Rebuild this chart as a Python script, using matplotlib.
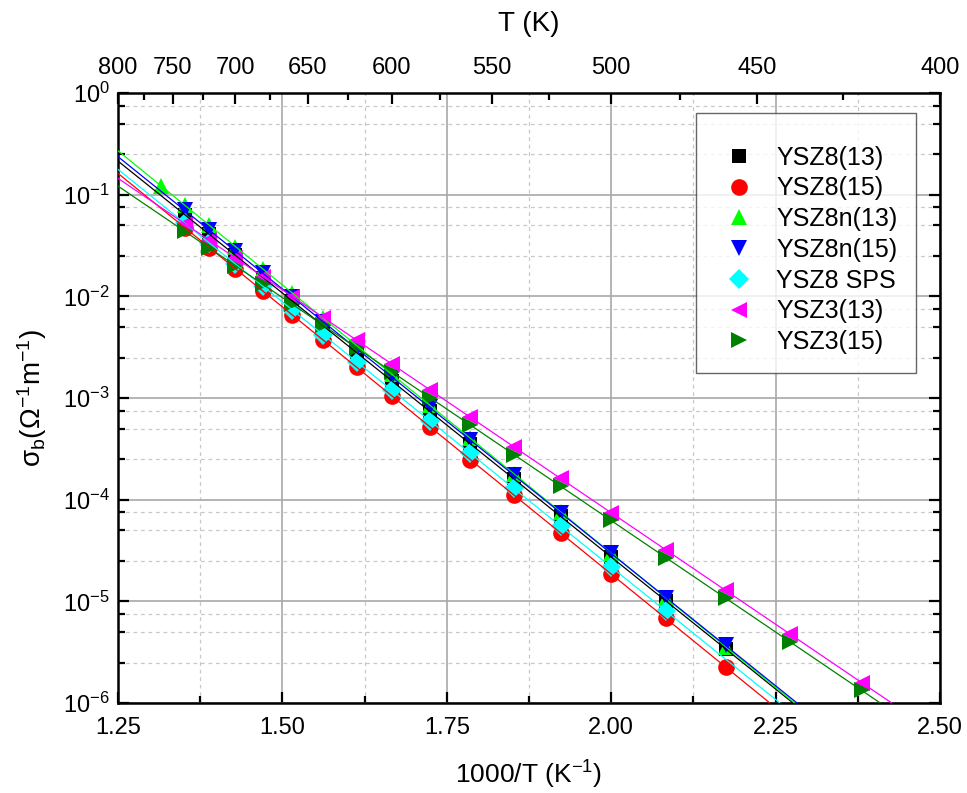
import matplotlib
matplotlib.use("Agg")
import matplotlib.pyplot as plt
import numpy as np

plt.rcParams['font.family'] = ['Liberation Sans', 'DejaVu Sans']
plt.rcParams['mathtext.fontset'] = 'custom'
plt.rcParams['mathtext.rm'] = 'Liberation Sans'
plt.rcParams['mathtext.it'] = 'Liberation Sans'

# measuring temperatures (K)
temps = np.array([740, 720, 700, 680, 660, 640, 620, 600, 580, 560, 540, 520,
                  500, 480, 460, 440, 420])

# conductivity values (ohm^-1 m^-1)
ysz8_13 = [0.0637, 0.0407, 0.0254, 0.01531, 0.00899, 0.00511, 0.00279, 0.00147,
           7.40e-4, 3.54e-4, 1.60e-4, 6.85e-5, 2.73e-5, 1.01e-5, 3.41e-6]
ysz8_15 = [0.0475, 0.0302, 0.01866, 0.01125, 0.00655, 0.00370, 0.00201, 0.00105,
           5.24e-4, 2.48e-4, 1.11e-4, 4.71e-5, 1.86e-5, 6.78e-6, 2.26e-6]
ysz8n_13 = [0.1216, 0.0789, 0.0500, 0.0309, 0.01854, 0.01079, 0.00607, 0.00329,
            0.00171, 8.51e-4, 4.03e-4, 1.80e-4, 7.57e-5, 2.97e-5, 1.08e-5, 3.59e-6]
ysz8n_15 = [0.0702, 0.0448, 0.0279, 0.01683, 0.00986, 0.00560, 0.00305, 0.00161,
            8.07e-4, 3.85e-4, 1.75e-4, 7.43e-5, 2.96e-5, 1.09e-5, 3.68e-6]
ysz8_sps = [0.0525, 0.0335, 0.0208, 0.01256, 0.00735, 0.00417, 0.00228, 0.00119,
            5.98e-4, 2.86e-4, 1.29e-4, 5.48e-5, 2.18e-5, 8.02e-6]
ysz3_13 = [0.0520, 0.0356, 0.0239, 0.01560, 0.00995, 0.00617, 0.00371, 0.00215,
           0.00121, 6.47e-4, 3.32e-4, 1.62e-4, 7.43e-5, 3.21e-5, 1.29e-5, 4.73e-6,
           1.58e-6]
ysz3_15 = [0.0437, 0.0299, 0.0200, 0.01309, 0.00836, 0.00518, 0.00311, 0.00181,
           0.00101, 5.43e-4, 2.78e-4, 1.36e-4, 6.24e-5, 2.69e-5, 1.08e-5, 3.96e-6,
           1.33e-6]

# (label, temperatures, values, marker, colour)
series = [
    ("YSZ8(13)", temps[:15], ysz8_13, "s", "#000000"),
    ("YSZ8(15)", temps[:15], ysz8_15, "o", "#FF0000"),
    ("YSZ8n(13)", np.r_[760, temps[:15]], ysz8n_13, "^", "#00FF00"),
    ("YSZ8n(15)", temps[:15], ysz8n_15, "v", "#0000FF"),
    ("YSZ8 SPS", temps[:14], ysz8_sps, "D", "#00FFFF"),
    ("YSZ3(13)", temps, ysz3_13, "<", "#FF00FF"),
    ("YSZ3(15)", temps, ysz3_15, ">", "#008000"),
]

top_T = [800, 750, 700, 650, 600, 550, 500, 450, 400]
top_T_minor = [775, 725, 675, 625, 575, 525, 475, 425]

fig = plt.figure(figsize=(9.67, 7.93), dpi=100)
ax = fig.add_axes([0.122, 0.1135, 0.850, 0.7692])

xfit = np.linspace(1.25, 2.5, 200)
for label, T, vals, mk, col in series:
    x = 1000.0 / np.asarray(T)
    ms = 10 if mk in ("s", "D") else 12
    ax.plot(x, vals, linestyle="none", marker=mk, color=col, ms=ms,
            markeredgewidth=0, label=label, zorder=3)
    # Arrhenius fit line
    p = np.polyfit(x, np.log10(vals), 1)
    ax.plot(xfit, 10 ** np.polyval(p, xfit), color=col, lw=0.9, zorder=4)

ax.set_yscale("log")
ax.set_xlim(1.25, 2.5)
ax.set_ylim(1e-6, 1)
ax.set_xticks([1.25, 1.50, 1.75, 2.00, 2.25, 2.50])
ax.set_xticklabels(["1.25", "1.50", "1.75", "2.00", "2.25", "2.50"])
ax.set_xticks([1.375, 1.625, 1.875, 2.125, 2.375], minor=True)
ax.set_yticks([10.0 ** k for k in range(-6, 1)])
ax.set_yticks([m * 10.0 ** k for k in range(-6, 0) for m in (2.5, 5, 7.5)],
              minor=True)
ax.yaxis.set_minor_formatter(matplotlib.ticker.NullFormatter())

ax.grid(True, which="major", color="#A8A8A8", lw=1.2, ls="-", zorder=0)
ax.grid(True, which="minor", color="#C8C8C8", lw=0.9, ls=(0, (3, 3)), zorder=0)
ax.set_axisbelow(True)

ax.tick_params(which="both", direction="in", top=True, right=True,
               labelsize=17, width=1.6, colors="black")
ax.tick_params(which="major", length=8)
ax.tick_params(axis="x", which="major", pad=10)
ax.tick_params(axis="y", which="major", pad=6)
ax.tick_params(which="minor", length=5)
for s in ax.spines.values():
    s.set_linewidth(1.8)

ax.set_xlabel("1000/T (K$^{\\mathregular{-1}}$)", fontsize=19, labelpad=14)
ax.set_ylabel("σ$_{\\mathregular{b}}$(Ω$^{\\mathregular{-1}}$m$^{\\mathregular{-1}}$)",
              fontsize=20, labelpad=10)

# temperature axis on top
ax2 = ax.twiny()
ax2.set_xlim(ax.get_xlim())
ax2.set_xticks(1000.0 / np.array(top_T))
ax2.set_xticklabels([str(t) for t in top_T])
ax2.set_xticks(1000.0 / np.array(top_T_minor), minor=True)
ax2.tick_params(which="both", direction="in", labelsize=17, width=1.6)
ax2.tick_params(which="major", length=8, pad=10)
ax2.tick_params(which="minor", length=5)
for s in ax2.spines.values():
    s.set_visible(False)
ax2.set_xlabel("T (K)", fontsize=20, labelpad=19)

leg = ax.legend(loc="upper right", bbox_to_anchor=(0.971, 0.967), fontsize=18,
                frameon=True, fancybox=False, edgecolor="#404040",
                labelspacing=0.27, handletextpad=0.47, borderpad=0.75,
                handlelength=2.0, borderaxespad=0,
                title=" ", title_fontsize=5)
leg.get_frame().set_linewidth(1.0)
leg.set_zorder(10)

fig.savefig("out.png", dpi=100)
